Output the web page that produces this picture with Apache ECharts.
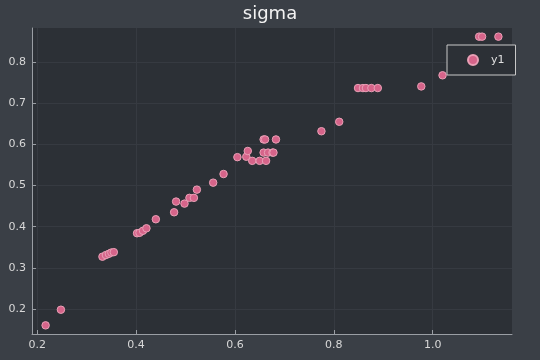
<!DOCTYPE html>
<html><head><meta charset="utf-8">
<script src="https://cdn.jsdelivr.net/npm/echarts@6/dist/echarts.min.js"></script>
<style>html,body{margin:0;padding:0;background:#3a3f46;}#c{width:540px;height:360px;}</style>
</head><body><div id="c"></div>
<script>
const xValues = [0.217, 0.248, 0.332, 0.339, 0.345, 0.350, 0.355, 0.402, 0.407, 0.414, 0.421, 0.440, 0.477, 0.481, 0.498, 0.508, 0.517, 0.523, 0.556, 0.577, 0.605, 0.623, 0.626, 0.635, 0.650, 0.658, 0.661, 0.658, 0.667, 0.676, 0.678, 0.663, 0.683, 0.775, 0.811, 0.849, 0.859, 0.865, 0.876, 0.889, 0.977, 1.020, 1.094, 1.100, 1.133];
const yValues = [0.160, 0.198, 0.327, 0.331, 0.334, 0.337, 0.338, 0.384, 0.385, 0.390, 0.396, 0.418, 0.435, 0.461, 0.456, 0.470, 0.470, 0.490, 0.507, 0.528, 0.569, 0.570, 0.584, 0.560, 0.560, 0.612, 0.612, 0.580, 0.580, 0.580, 0.580, 0.560, 0.612, 0.632, 0.655, 0.737, 0.737, 0.737, 0.737, 0.737, 0.741, 0.768, 0.862, 0.862, 0.862];
const xTicks = [0.2, 0.4, 0.6, 0.8, 1.0];
const yTicks = [0.2, 0.3, 0.4, 0.5, 0.6, 0.7, 0.8];
const seriesName = 'y1';
const title = 'sigma';

const points = xValues.map((x, i) => [x, yValues[i]]);
const chart = echarts.init(document.getElementById('c'));
const font = 'DejaVu Sans';
const axisCommon = {
  axisLine: {show: true, onZero: false, lineStyle: {color: '#9a9ea4', width: 1}},
  axisTick: {show: true, inside: true, length: 4, lineStyle: {color: '#9a9ea4'}},
  splitLine: {show: true, lineStyle: {color: '#363a41', width: 1}},
  axisLabel: {color: '#d8d8d8', fontFamily: font, fontSize: 11}
};
chart.setOption({
  backgroundColor: '#3a3f46',
  animation: false,
  title: {text: title, left: 'center', top: 0, textStyle: {color: '#f2f2f2', fontFamily: font, fontSize: 18, fontWeight: 'normal'}},
  grid: {left: 32, right: 28, top: 28, bottom: 26, show: true, backgroundColor: '#2c3036', borderWidth: 0},
  legend: {
    data: [seriesName], left: 447, top: 45, orient: 'vertical',
    padding: [9, 11, 9, 20], itemGap: 0, itemWidth: 10, itemHeight: 10,
    borderColor: '#c8c8c8', borderWidth: 1, backgroundColor: '#2c3036',
    textStyle: {color: '#e0e0e0', fontFamily: font, fontSize: 11, padding: [0, 0, 0, 8]},
    icon: 'circle'
  },
  xAxis: Object.assign({}, axisCommon, {
    type: 'value', min: 0.1895, max: 1.1605,
    axisTick: Object.assign({}, axisCommon.axisTick, {customValues: xTicks}),
    axisLabel: Object.assign({}, axisCommon.axisLabel, {customValues: xTicks, margin: 6, formatter: v => v.toFixed(1)})
  }),
  yAxis: Object.assign({}, axisCommon, {
    type: 'value', min: 0.139, max: 0.883,
    axisTick: Object.assign({}, axisCommon.axisTick, {customValues: yTicks}),
    axisLabel: Object.assign({}, axisCommon.axisLabel, {customValues: yTicks, margin: 6, formatter: v => v.toFixed(1)})
  }),
  series: [{
    name: seriesName, type: 'scatter', data: points, symbolSize: 7.5,
    itemStyle: {color: '#d6648a', borderColor: '#e9a0b6', borderWidth: 1, opacity: 1}
  }]
});
</script></body></html>
